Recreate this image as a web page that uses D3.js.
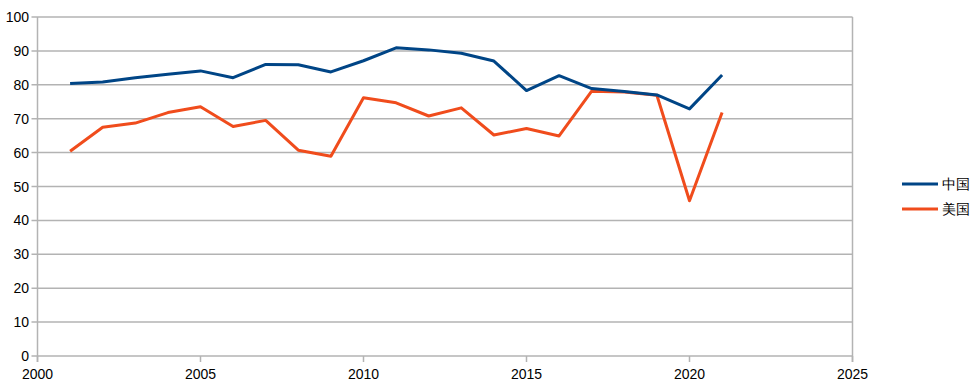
<!DOCTYPE html>
<html>
<head>
<meta charset="utf-8">
<script src="https://cdn.jsdelivr.net/npm/d3@7"></script>
<style>
body { margin: 0; background: #fff; }
text { font-family: "Liberation Sans", Arial, sans-serif; }
</style>
</head>
<body>
<script>
var width = 973;
var height = 381;
var years = [2001, 2002, 2003, 2004, 2005, 2006, 2007, 2008, 2009, 2010, 2011,
    2012, 2013, 2014, 2015, 2016, 2017, 2018, 2019, 2020, 2021];
var chinaValues = [80.4, 80.8, 82.1, 83.1, 84.1, 82.1, 86.0, 85.9, 83.8, 87.1, 90.9,
    90.3, 89.3, 87.0, 78.3, 82.7, 78.9, 78.0, 77.0, 72.9, 82.9];
var usaValues = [60.4, 67.5, 68.7, 71.8, 73.5, 67.7, 69.5, 60.7, 58.9, 76.2, 74.7,
    70.8, 73.2, 65.2, 67.1, 64.9, 78.1, 77.9, 76.9, 45.8, 71.8];
var seriesNames = ["中国", "美国"];
var seriesColors = ["#004586", "#f04c1c"];
var xTicks = [2000, 2005, 2010, 2015, 2020, 2025];
var yTicks = [0, 10, 20, 30, 40, 50, 60, 70, 80, 90, 100];

var gridColor = "#b3b3b3";
var lineWidth = 3;

var svg = d3.select("body").append("svg")
    .attr("width", width)
    .attr("height", height);

var x = d3.scaleLinear().domain([2000, 2025]).range([37.5, 852.5]);
var y = d3.scaleLinear().domain([0, 100]).range([356, 17]);

// horizontal grid
svg.append("g").selectAll("line")
    .data(yTicks)
    .enter().append("line")
    .attr("x1", x(2000) - 6)
    .attr("x2", x(2025))
    .attr("y1", function(d) { return y(d); })
    .attr("y2", function(d) { return y(d); })
    .attr("stroke", gridColor)
    .attr("stroke-width", 1.5);

// right border
svg.append("line")
    .attr("x1", x(2025)).attr("x2", x(2025))
    .attr("y1", y(100)).attr("y2", y(0) + 6)
    .attr("stroke", gridColor).attr("stroke-width", 1.5);

// y axis
svg.append("line")
    .attr("x1", x(2000)).attr("x2", x(2000))
    .attr("y1", y(100)).attr("y2", y(0) + 6)
    .attr("stroke", gridColor).attr("stroke-width", 1.5);

// x ticks
svg.append("g").selectAll("line")
    .data(xTicks)
    .enter().append("line")
    .attr("x1", function(d) { return x(d); })
    .attr("x2", function(d) { return x(d); })
    .attr("y1", y(0))
    .attr("y2", y(0) + 6)
    .attr("stroke", gridColor)
    .attr("stroke-width", 1.5);

// y labels
svg.append("g").selectAll("text")
    .data(yTicks)
    .enter().append("text")
    .attr("x", 29)
    .attr("y", function(d) { return y(d) + 5; })
    .attr("text-anchor", "end")
    .attr("font-size", 14)
    .attr("fill", "#000")
    .text(function(d) { return d; });

// x labels
svg.append("g").selectAll("text")
    .data(xTicks)
    .enter().append("text")
    .attr("x", function(d) { return x(d); })
    .attr("y", 379)
    .attr("text-anchor", "middle")
    .attr("font-size", 14)
    .attr("fill", "#000")
    .text(function(d) { return d; });

var line = d3.line()
    .x(function(d) { return x(d[0]); })
    .y(function(d) { return y(d[1]); });

var allSeries = [chinaValues, usaValues];
// draw usa first so china sits on top where they meet
for (var s = allSeries.length - 1; s >= 0; s--) {
    var pts = d3.zip(years, allSeries[s]);
    svg.append("path")
        .datum(pts)
        .attr("d", line)
        .attr("fill", "none")
        .attr("stroke", seriesColors[s])
        .attr("stroke-width", lineWidth)
        .attr("stroke-linejoin", "round");
}

// legend
var legend = svg.append("g").selectAll("g")
    .data(seriesNames)
    .enter().append("g")
    .attr("transform", function(d, i) { return "translate(902," + (184 + i * 25) + ")"; });

legend.append("line")
    .attr("x1", 0).attr("x2", 36)
    .attr("y1", 0).attr("y2", 0)
    .attr("stroke", function(d, i) { return seriesColors[i]; })
    .attr("stroke-width", lineWidth);

legend.append("text")
    .attr("x", 40)
    .attr("y", 5)
    .attr("font-size", 14)
    .attr("font-family", "'Noto Sans CJK SC', sans-serif")
    .attr("fill", "#000")
    .text(function(d) { return d; });
</script>
</body>
</html>
